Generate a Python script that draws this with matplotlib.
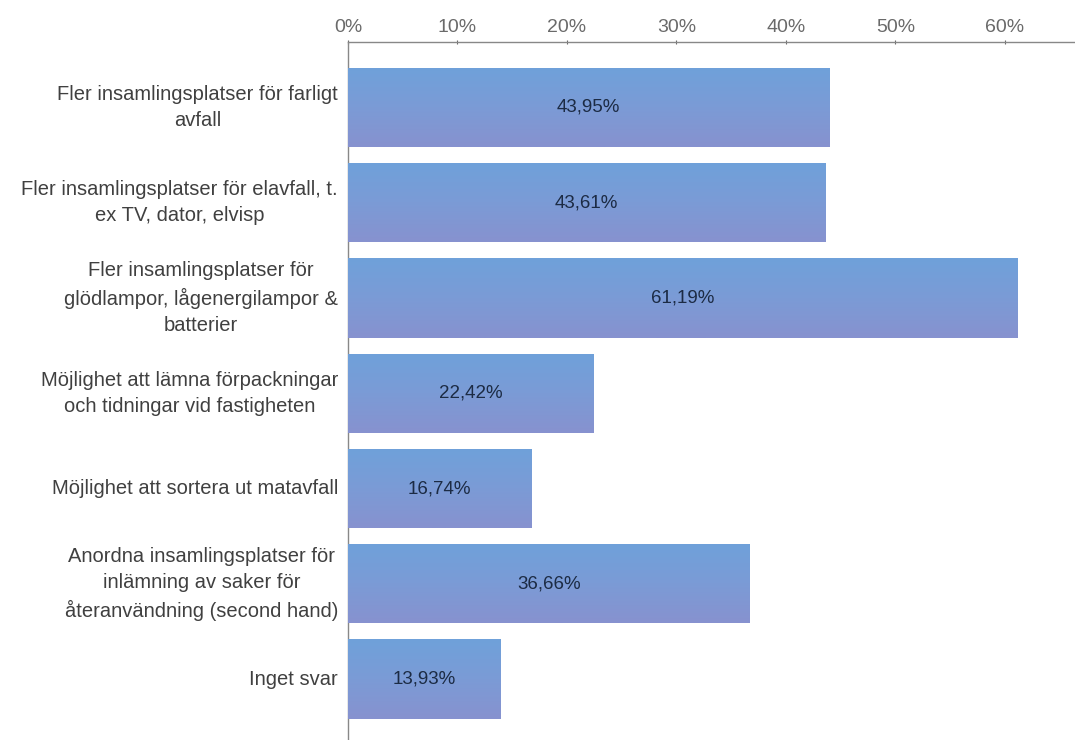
import numpy as np
import matplotlib.pyplot as plt
from matplotlib.ticker import FuncFormatter

categories = [
    "Fler insamlingsplatser för farligt\navfall",
    "Fler insamlingsplatser för elavfall, t.\nex TV, dator, elvisp",
    "Fler insamlingsplatser för\nglödlampor, lågenergilampor &\nbatterier",
    "Möjlighet att lämna förpackningar\noch tidningar vid fastigheten",
    "Möjlighet att sortera ut matavfall",
    "Anordna insamlingsplatser för\ninlämning av saker för\nåteranvändning (second hand)",
    "Inget svar",
]
shares = [43.95, 43.61, 61.19, 22.42, 16.74, 36.66, 13.93]
ticks = [0, 10, 20, 30, 40, 50, 60]

plt.rcParams['font.family'] = ['Liberation Sans', 'DejaVu Sans']

fig = plt.figure(figsize=(10.75, 7.4), dpi=100)
ax = fig.add_axes([348 / 1075, 0.0, 1 - 348 / 1075, 1 - 42 / 740])

y = np.arange(len(shares))
bars = ax.barh(y, shares, height=0.83, color='#7b9dd8', edgecolor='none', zorder=2)

# soft vertical gradient inside each bar
grad = np.linspace(0, 1, 64).reshape(-1, 1)
cmap = plt.matplotlib.colors.LinearSegmentedColormap.from_list(
    'bar', ['#6fa1da', '#7b9bd6', '#8792cf'])
for b in bars:
    x0, y0, w, h = b.get_x(), b.get_y(), b.get_width(), b.get_height()
    im = ax.imshow(grad, extent=(x0, x0 + w, y0 + h, y0), aspect='auto',
                   cmap=cmap, zorder=3)
    im.set_clip_path(b)

for yi, v in zip(y, shares):
    ax.text(v / 2, yi, f"{v:.2f}%".replace('.', ','), ha='center', va='center',
            fontsize=13.5, color='#1c2b44', zorder=4)

ax.set_xlim(0, 66.4)
ax.set_ylim(6.64, -0.687)
ax.xaxis.tick_top()
ax.set_xticks(ticks)
ax.xaxis.set_major_formatter(FuncFormatter(lambda v, p: f"{v:.0f}%"))
ax.tick_params(axis='x', colors='#6a6a6a', labelsize=14, length=3, direction='inout', pad=3)
ax.set_yticks([])
for s in ['right', 'bottom']:
    ax.spines[s].set_visible(False)
for s in ['top', 'left']:
    ax.spines[s].set_color('#888888')
    ax.spines[s].set_linewidth(1.0)

for yi, lab in zip(y, categories):
    ax.annotate(lab, xy=(0, yi), xycoords=('axes fraction', 'data'),
                xytext=(-10, 0), textcoords='offset pixels',
                ha='right', va='center', multialignment='center',
                fontsize=14.5, color='#404040', linespacing=1.45)

fig.savefig('out.png', dpi=100, facecolor='white')
